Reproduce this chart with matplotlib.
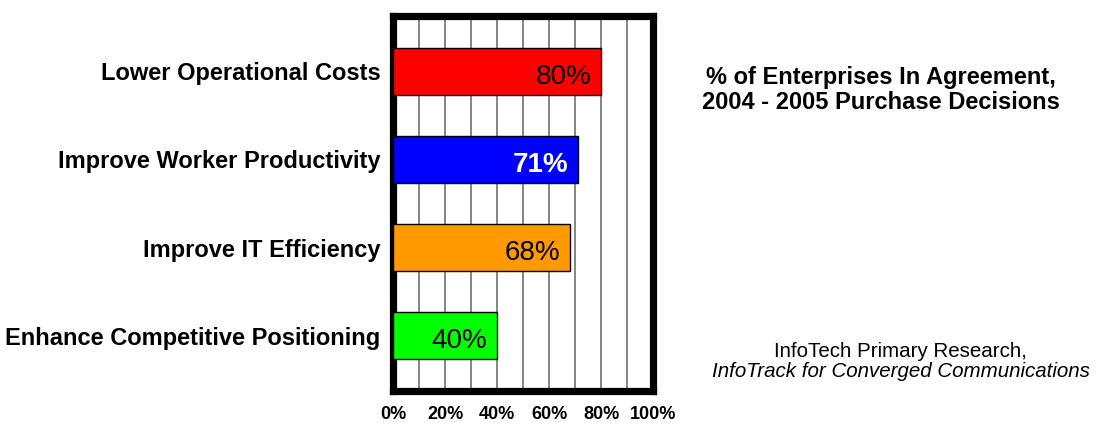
import matplotlib.pyplot as plt

plt.rcParams["font.family"] = ["Liberation Sans", "DejaVu Sans"]

# survey results
reasons = [
    "Lower Operational Costs",
    "Improve Worker Productivity",
    "Improve IT Efficiency",
    "Enhance Competitive Positioning",
]
percent = [80, 71, 68, 40]
bar_colors = ["#ff0000", "#0000ff", "#ff9900", "#00ff00"]
label_colors = ["black", "white", "black", "black"]
label_weights = ["normal", "bold", "normal", "normal"]
x_ticks = [0, 20, 40, 60, 80, 100]
grid_steps = [10, 20, 30, 40, 50, 60, 70, 80, 90]


def main():
    fig = plt.figure(figsize=(10.96, 4.24), dpi=100)
    ax = fig.add_axes([0.3586, 0.0778, 0.2372, 0.8845])

    # vertical grid every 10%
    for g in grid_steps:
        ax.axvline(g, color="#858585", linewidth=1.4, zorder=1)

    positions = list(range(len(reasons)))
    bars = ax.barh(positions, percent, height=0.53, color=bar_colors,
                   edgecolor="black", linewidth=1.0, zorder=3)

    for bar, value, tc, fw in zip(bars, percent, label_colors, label_weights):
        ax.annotate(f"{value}%",
                    xy=(value, bar.get_y() + bar.get_height() / 2),
                    xytext=(-7, -4), textcoords="offset points",
                    ha="right", va="center", fontsize=20,
                    color=tc, fontweight=fw, zorder=4)

    ax.set_xlim(0, 100)
    ax.set_ylim(3.63, -0.63)

    ax.set_yticks(positions)
    ax.set_yticklabels(reasons, fontsize=17, fontweight="bold")
    ax.set_xticks(x_ticks)
    ax.set_xticklabels([f"{t}%" for t in x_ticks], fontsize=13,
                       fontweight="bold")
    ax.tick_params(axis="both", which="both", length=0)
    ax.tick_params(axis="y", pad=9)
    ax.tick_params(axis="x", pad=11)

    for spine in ax.spines.values():
        spine.set_linewidth(5.2)
        spine.set_color("black")
        spine.set_zorder(2)

    fig.text(0.804, 0.788, "% of Enterprises In Agreement,\n"
             "2004 - 2005 Purchase Decisions",
             ha="center", va="center", fontsize=17, fontweight="bold",
             linespacing=1.15)

    fig.text(0.822, 0.172, "InfoTech Primary Research,",
             ha="center", va="center", fontsize=14.8)
    fig.text(0.822, 0.124, "InfoTrack for Converged Communications",
             ha="center", va="center", fontsize=14.8, style="italic")

    fig.savefig("out.png", dpi=100)
    plt.close(fig)


if __name__ == "__main__":
    main()
